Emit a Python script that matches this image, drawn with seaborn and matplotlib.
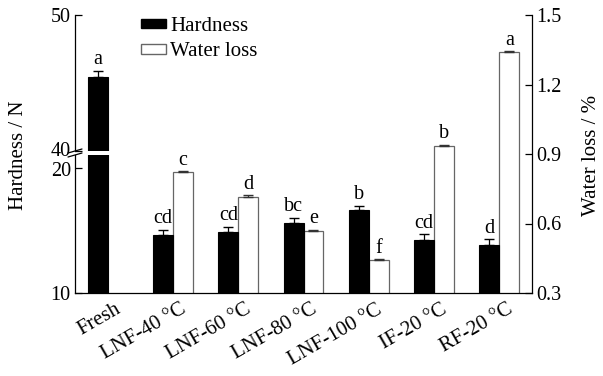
import numpy as np
import pandas as pd
import matplotlib
matplotlib.use("Agg")
import matplotlib.pyplot as plt
import seaborn as sns
from matplotlib.patches import Patch
from matplotlib.lines import Line2D
from matplotlib.transforms import ScaledTranslation

# ---------------- data ----------------
categories = ["Fresh", "LNF-40 °C", "LNF-60 °C", "LNF-80 °C",
              "LNF-100 °C", "IF-20 °C", "RF-20 °C"]
hardness = [45.45, 14.6, 14.9, 15.55, 16.6, 14.25, 13.85]
hardness_err = [0.45, 0.45, 0.4, 0.45, 0.35, 0.45, 0.45]
hardness_letters = ["a", "cd", "cd", "bc", "b", "cd", "d"]

water_categories = ["LNF-40 °C", "LNF-60 °C", "LNF-80 °C",
                    "LNF-100 °C", "IF-20 °C", "RF-20 °C"]
water_loss = [0.822, 0.713, 0.569, 0.444, 0.936, 1.342]
water_err = [0.004, 0.008, 0.004, 0.003, 0.005, 0.003]
water_letters = ["c", "d", "e", "f", "b", "a"]

hue_order = ["Hardness", "Water loss"]

# ---------------- style ----------------
sns.set_theme(style="white")
plt.rcParams["font.family"] = ["Liberation Serif", "DejaVu Serif"]
plt.rcParams["text.color"] = "black"

FS = 14.5

W, H = 603, 376
fig = plt.figure(figsize=(W / 100, H / 100), dpi=100)

def fx(px):
    return px / W

def fy(py):
    return 1 - py / H

x_left, x_right = 75, 532
y_top, y_bot = 15, 293
y_lo_top, y_hi_bot = 155, 151

ax_w = fig.add_axes([fx(x_left), fy(y_bot), fx(x_right - x_left), (y_bot - y_top) / H])
ax_lo = fig.add_axes([fx(x_left), fy(y_bot), fx(x_right - x_left), (y_bot - y_lo_top) / H])
ax_hi = fig.add_axes([fx(x_left), fy(y_hi_bot), fx(x_right - x_left), (y_hi_bot - y_top) / H])
for a in (ax_lo, ax_hi):
    a.patch.set_alpha(0)

hdf = pd.DataFrame({"Category": categories, "Value": hardness, "Measure": "Hardness"})
wdf = pd.DataFrame({"Category": water_categories, "Value": water_loss, "Measure": "Water loss"})
palette = {"Hardness": "black", "Water loss": "white"}

for a in (ax_lo, ax_hi):
    sns.barplot(data=hdf, x="Category", y="Value", hue="Measure", order=categories,
                hue_order=hue_order, palette=palette, width=0.61, errorbar=None,
                dodge=True, edgecolor="black", linewidth=0.8, ax=a, legend=False)

sns.barplot(data=wdf, x="Category", y="Value", hue="Measure", order=categories,
            hue_order=hue_order, palette=palette, width=0.61, errorbar=None,
            dodge=True, edgecolor="#666666", linewidth=0.9, ax=ax_w, legend=False)

def bars_of(ax):
    return [b for c in ax.containers for b in c if np.isfinite(b.get_height())]

h_bars_lo = bars_of(ax_lo)
h_bars_hi = bars_of(ax_hi)
w_bars = bars_of(ax_w)

for a in (ax_w, ax_lo, ax_hi):
    a.set_xlim(-0.5, 6.5)
    a.set_xlabel("")
    a.set_ylabel("")

ax_lo.set_ylim(10, 21.0)
ax_hi.set_ylim(40, 50)
ax_w.set_ylim(0.3, 1.5)

def annotate(ax, bars, vals, errs, letters, ecol, lo, hi):
    xs = [b.get_x() + b.get_width() / 2 for b in bars]
    for x, v, e, l in zip(xs, vals, errs, letters):
        if lo <= v + e <= hi:
            ax.errorbar([x], [v], yerr=[[0], [e]], fmt="none", ecolor=ecol,
                        elinewidth=0.9, capsize=3.5, capthick=1.0)
            ax.annotate(l, (x, v + e), xytext=(0, 1), textcoords="offset points",
                        ha="center", va="bottom", fontsize=FS, color="black")

annotate(ax_lo, h_bars_lo, hardness, hardness_err, hardness_letters, "black", 10, 21)
annotate(ax_hi, h_bars_hi, hardness, hardness_err, hardness_letters, "black", 40, 50)
annotate(ax_w, w_bars, water_loss, water_err, water_letters, "#333333", 0.3, 1.5)

# spines / ticks
for a in (ax_lo, ax_hi):
    for s in ("top", "right", "bottom"):
        a.spines[s].set_visible(False)
    a.spines["left"].set_color("black")
    a.spines["left"].set_linewidth(0.9)
    a.set_xticks([])
    a.tick_params(axis="y", direction="in", length=5, width=0.9, colors="black",
                  labelsize=FS, pad=3, left=True)
ax_lo.set_yticks([10, 20])
ax_hi.set_yticks([40, 50])
# nudge the two labels next to the break apart slightly
for lbl in ax_hi.get_yticklabels():
    if lbl.get_text() == "40":
        lbl.set_transform(lbl.get_transform() + ScaledTranslation(0, 1.5 / 100, fig.dpi_scale_trans))
for lbl in ax_lo.get_yticklabels():
    if lbl.get_text() == "20":
        lbl.set_transform(lbl.get_transform() + ScaledTranslation(0, -1.5 / 100, fig.dpi_scale_trans))

for s in ("top", "left"):
    ax_w.spines[s].set_visible(False)
for s in ("right", "bottom"):
    ax_w.spines[s].set_color("black")
    ax_w.spines[s].set_linewidth(0.9)
ax_w.yaxis.tick_right()
ax_w.set_yticks([0.3, 0.6, 0.9, 1.2, 1.5])
ax_w.set_yticklabels(["0.3", "0.6", "0.9", "1.2", "1.5"])
ax_w.tick_params(axis="y", direction="in", length=5, width=0.9, colors="black",
                 labelsize=FS, pad=3, right=True)
ax_w.tick_params(axis="x", length=0, labelsize=15, pad=5, colors="black")
ax_w.set_xticks(range(len(categories)))
ax_w.set_xticklabels(categories, rotation=30, ha="right", va="top", rotation_mode="anchor")
for lbl in ax_w.get_xticklabels():
    lbl.set_transform(lbl.get_transform() + ScaledTranslation(7 / 100, 0, fig.dpi_scale_trans))

# axis titles
fig.text(fx(19), fy(155), "Hardness / N", rotation=90, ha="center", va="center", fontsize=15)
fig.text(fx(591), fy(155), "Water loss / %", rotation=90, ha="center", va="center", fontsize=15)

# break marks
for yb in (y_hi_bot, y_lo_top):
    fig.add_artist(Line2D([fx(x_left - 7), fx(x_left + 7)], [fy(yb + 2), fy(yb - 2)],
                          color="black", lw=0.9, transform=fig.transFigure))

# legend
handles = [Patch(facecolor="black", edgecolor="black"),
           Patch(facecolor="white", edgecolor="#666666")]
fig.legend(handles, hue_order, loc="upper left", bbox_to_anchor=(fx(141), fy(17)),
           frameon=False, fontsize=15, handlelength=1.2, handleheight=0.35,
           handletextpad=0.2, labelspacing=0.3, borderpad=0, borderaxespad=0)

fig.savefig("out.png", dpi=100)
